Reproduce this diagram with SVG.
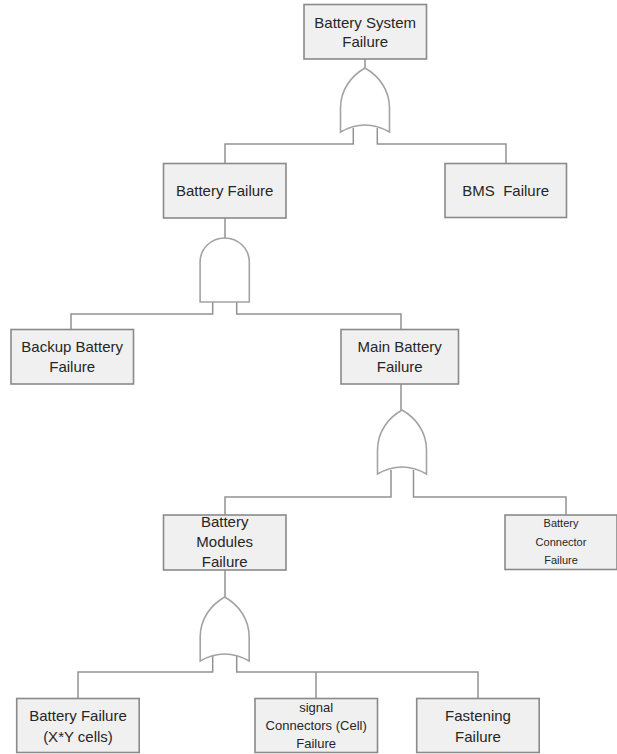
<svg xmlns="http://www.w3.org/2000/svg" width="617" height="754" viewBox="0 0 617 754">
<style>
.box{fill:#f0f0f0;stroke:#8a8a8a;stroke-width:1.6}
.gate{fill:#ffffff;stroke:#a3a3a3;stroke-width:1.6}
.wire{fill:none;stroke:#929292;stroke-width:1.5}
text{font-family:"Liberation Sans",Arial,sans-serif;font-size:15px;fill:#262626;text-anchor:middle}
.sm{font-size:11px}
.md{font-size:13px}
</style>
<defs>
<path id="or" d="M0,0 C-14,8 -24.5,22 -24.5,40 L-24.5,64 Q0,50 24.5,64 L24.5,40 C24.5,22 14,8 0,0 Z"/>
<path id="and" d="M-24.6,64 L-24.6,24 A24.6,24 0 0 1 24.6,24 L24.6,64 Z"/>
</defs>
<g id="connectors">
<path class="wire" d="M365,59 V68"/>
<path class="wire" d="M225,163 V144 H353.3 V128 M377.3,128 V144 H506 V163"/>
<path class="wire" d="M225,218 V238"/>
<path class="wire" d="M71,329 V314 H212.7 V302 M236.7,302 V314 H401 V329"/>
<path class="wire" d="M401,384 V410"/>
<path class="wire" d="M225,515 V497 H391 V470 M413.5,470 V497 H566 V515"/>
<path class="wire" d="M225,570 V597"/>
<path class="wire" d="M78,698 V672 H212.7 V656 M236.7,656 V672 H478 V698 M316,672 V698"/>
</g>
<g id="gate-or-top"><use href="#or" class="gate" transform="translate(365,68)"/></g>
<g id="gate-and"><use href="#and" class="gate" transform="translate(224.7,238)"/></g>
<g id="gate-or-main"><use href="#or" class="gate" transform="translate(402,410)"/></g>
<g id="gate-or-modules"><use href="#or" class="gate" transform="translate(224.7,597)"/></g>
<g id="n-battery-system">
<rect class="box" x="304" y="4.5" width="122.5" height="54.5"/>
<text x="365.2" y="27.5">Battery System</text>
<text x="365.2" y="46.5">Failure</text>
</g>
<g id="n-battery-failure">
<rect class="box" x="163.5" y="163.5" width="122.5" height="54.5"/>
<text x="224.7" y="196">Battery Failure</text>
</g>
<g id="n-bms">
<rect class="box" x="445" y="163.5" width="121.5" height="54"/>
<text x="505.7" y="196" style="white-space:pre">BMS  Failure</text>
</g>
<g id="n-backup">
<rect class="box" x="11" y="329.5" width="122.5" height="54.5"/>
<text x="72.2" y="352">Backup Battery</text>
<text x="72.2" y="372">Failure</text>
</g>
<g id="n-main">
<rect class="box" x="341" y="329.5" width="117.5" height="54.5"/>
<text x="399.7" y="352">Main Battery</text>
<text x="399.7" y="372">Failure</text>
</g>
<g id="n-modules">
<rect class="box" x="163.5" y="515" width="122.5" height="55"/>
<text x="224.7" y="527">Battery</text>
<text x="224.7" y="547">Modules</text>
<text x="224.7" y="567">Failure</text>
</g>
<g id="n-connector">
<rect class="box" x="505" y="515" width="112" height="54.5"/>
<text class="sm" x="561" y="527">Battery</text>
<text class="sm" x="561" y="545.5">Connector</text>
<text class="sm" x="561" y="564">Failure</text>
</g>
<g id="n-cells">
<rect class="box" x="16.7" y="698.5" width="122.5" height="54"/>
<text x="78" y="720.5">Battery Failure</text>
<text x="78" y="741.5">(X*Y cells)</text>
</g>
<g id="n-signal">
<rect class="box" x="255" y="698.5" width="122.5" height="54"/>
<text class="md" x="316.2" y="712">signal</text>
<text class="md" x="316.2" y="730">Connectors (Cell)</text>
<text class="md" x="316.2" y="748">Failure</text>
</g>
<g id="n-fastening">
<rect class="box" x="416.7" y="698.5" width="122.5" height="54"/>
<text x="478" y="720.5">Fastening</text>
<text x="478" y="741.5">Failure</text>
</g>
</svg>
